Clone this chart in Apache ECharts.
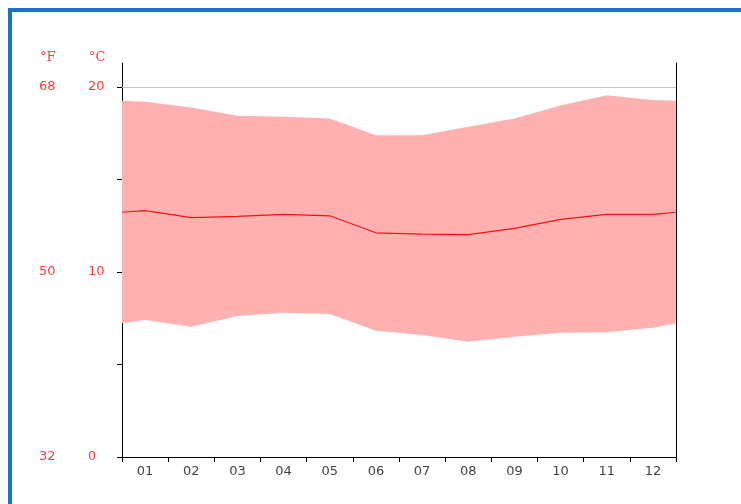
<!DOCTYPE html>
<html>
<head>
<meta charset="utf-8">
<script src="https://cdn.jsdelivr.net/npm/echarts@6/dist/echarts.min.js"></script>
<style>
  html, body { margin: 0; padding: 0; background: #fff; overflow: hidden; }
  #frame {
    position: absolute; left: 8px; top: 8px; width: 900px; height: 700px;
    border-left: 4px solid #1873c5; border-top: 4px solid #1873c5;
    box-sizing: border-box;
  }
  #chart { position: absolute; left: 0; top: 0; width: 741px; height: 504px; }
</style>
</head>
<body>
<div id="frame"></div>
<div id="chart"></div>
<script>
// Month labels
const months = ['01', '02', '03', '04', '05', '06', '07', '08', '09', '10', '11', '12'];
// Monthly temperatures in °C
const tempMax  = [19.2, 18.9, 18.45, 18.4, 18.3, 17.4, 17.4, 17.85, 18.3, 19.0, 19.55, 19.3];
const tempMean = [13.32, 12.94, 13.01, 13.12, 13.04, 12.12, 12.05, 12.02, 12.36, 12.85, 13.12, 13.12];
const tempMin  = [7.41, 7.04, 7.62, 7.8, 7.73, 6.83, 6.59, 6.23, 6.5, 6.72, 6.74, 6.99];
// Values at the turn of the year (Dec/Jan), shown at both edges
const edgeMax = 19.26;
const edgeMean = 13.23;
const edgeMin = 7.23;
// Axis labels
const celsiusTicks = [0, 5, 10, 15, 20];
const celsiusLabels = [0, 10, 20];
const fahrenheitLabels = [32, 50, 68];

const C_TOP = 21.3;
const toF = c => 32 + c * 1.8;

// Points sit in the middle of each month; the edges carry the turn-of-year value
function withEdges(values, edge) {
  const pts = [[0, edge]];
  values.forEach((v, i) => pts.push([i + 0.5, v]));
  pts.push([12, edge]);
  return pts;
}
const lowPts = withEdges(tempMin, edgeMin);
const highPts = withEdges(tempMax, edgeMax);
const meanPts = withEdges(tempMean, edgeMean);
const bandRows = highPts.map((p, i) => [p[0], lowPts[i][1], p[1]]);

const red = '#ff3a3a';
const chart = echarts.init(document.getElementById('chart'), null, { renderer: 'canvas' });
chart.setOption({
  animation: false,
  backgroundColor: 'transparent',
  grid: { left: 122, right: 65, top: 63, bottom: 47 },
  graphic: [
    { type: 'text', left: 40, top: 51, style: { text: '°F', fill: red, font: '13px "DejaVu Serif"' } },
    { type: 'text', left: 89, top: 51, style: { text: '°C', fill: red, font: '13px "DejaVu Serif"' } }
  ],
  xAxis: [
    {
      type: 'category', data: months, boundaryGap: true,
      axisLine: { lineStyle: { color: '#000', width: 1 } },
      axisTick: { show: true, length: 5, lineStyle: { color: '#000' } },
      axisLabel: { color: '#444', fontFamily: 'DejaVu Sans', fontSize: 13, margin: 8 },
      splitLine: { show: false }
    },
    { type: 'value', min: 0, max: 12, show: false }
  ],
  yAxis: [
    {
      type: 'value', position: 'left', min: 0, max: C_TOP,
      axisLine: { show: true, lineStyle: { color: '#000', width: 1 } },
      axisTick: { show: true, length: 5, customValues: celsiusTicks, lineStyle: { color: '#000' } },
      axisLabel: { customValues: celsiusLabels, align: 'left', margin: 34, color: red, fontFamily: 'DejaVu Sans', fontSize: 13 },
      splitLine: { show: false }
    },
    {
      type: 'value', position: 'left', min: toF(0), max: toF(C_TOP),
      axisLine: { show: false }, axisTick: { show: false },
      axisLabel: { customValues: fahrenheitLabels, align: 'left', margin: 83, color: red, fontFamily: 'DejaVu Sans', fontSize: 13 },
      splitLine: { show: false }
    },
    {
      type: 'value', position: 'right', min: 0, max: 1,
      axisLine: { show: true, lineStyle: { color: '#000', width: 1 } },
      axisTick: { show: false }, axisLabel: { show: false }, splitLine: { show: false }
    }
  ],
  series: [
    {
      // min–max band drawn as one polygon: upper edge forward, lower edge back
      name: 'range', type: 'custom', xAxisIndex: 1, yAxisIndex: 0,
      data: bandRows, encode: { x: 0, y: [1, 2] }, silent: true, z: 1,
      renderItem: function (params, api) {
        if (params.dataIndex !== 0) return null;
        const pts = [];
        for (let i = 0; i < bandRows.length; i++) pts.push(api.coord([bandRows[i][0], bandRows[i][2]]));
        for (let i = bandRows.length - 1; i >= 0; i--) pts.push(api.coord([bandRows[i][0], bandRows[i][1]]));
        return { type: 'polygon', shape: { points: pts }, style: { fill: '#ffb1b1' } };
      }
    },
    {
      name: 'mean', type: 'line', xAxisIndex: 1, yAxisIndex: 0,
      data: meanPts, symbol: 'none', lineStyle: { color: '#ff1010', width: 1.2 },
      silent: true, z: 3,
      markLine: {
        silent: true, symbol: 'none', label: { show: false },
        lineStyle: { color: '#c4c4c4', width: 1, type: 'solid' },
        data: [{ yAxis: 20 }]
      }
    }
  ]
});
</script>
</body>
</html>
